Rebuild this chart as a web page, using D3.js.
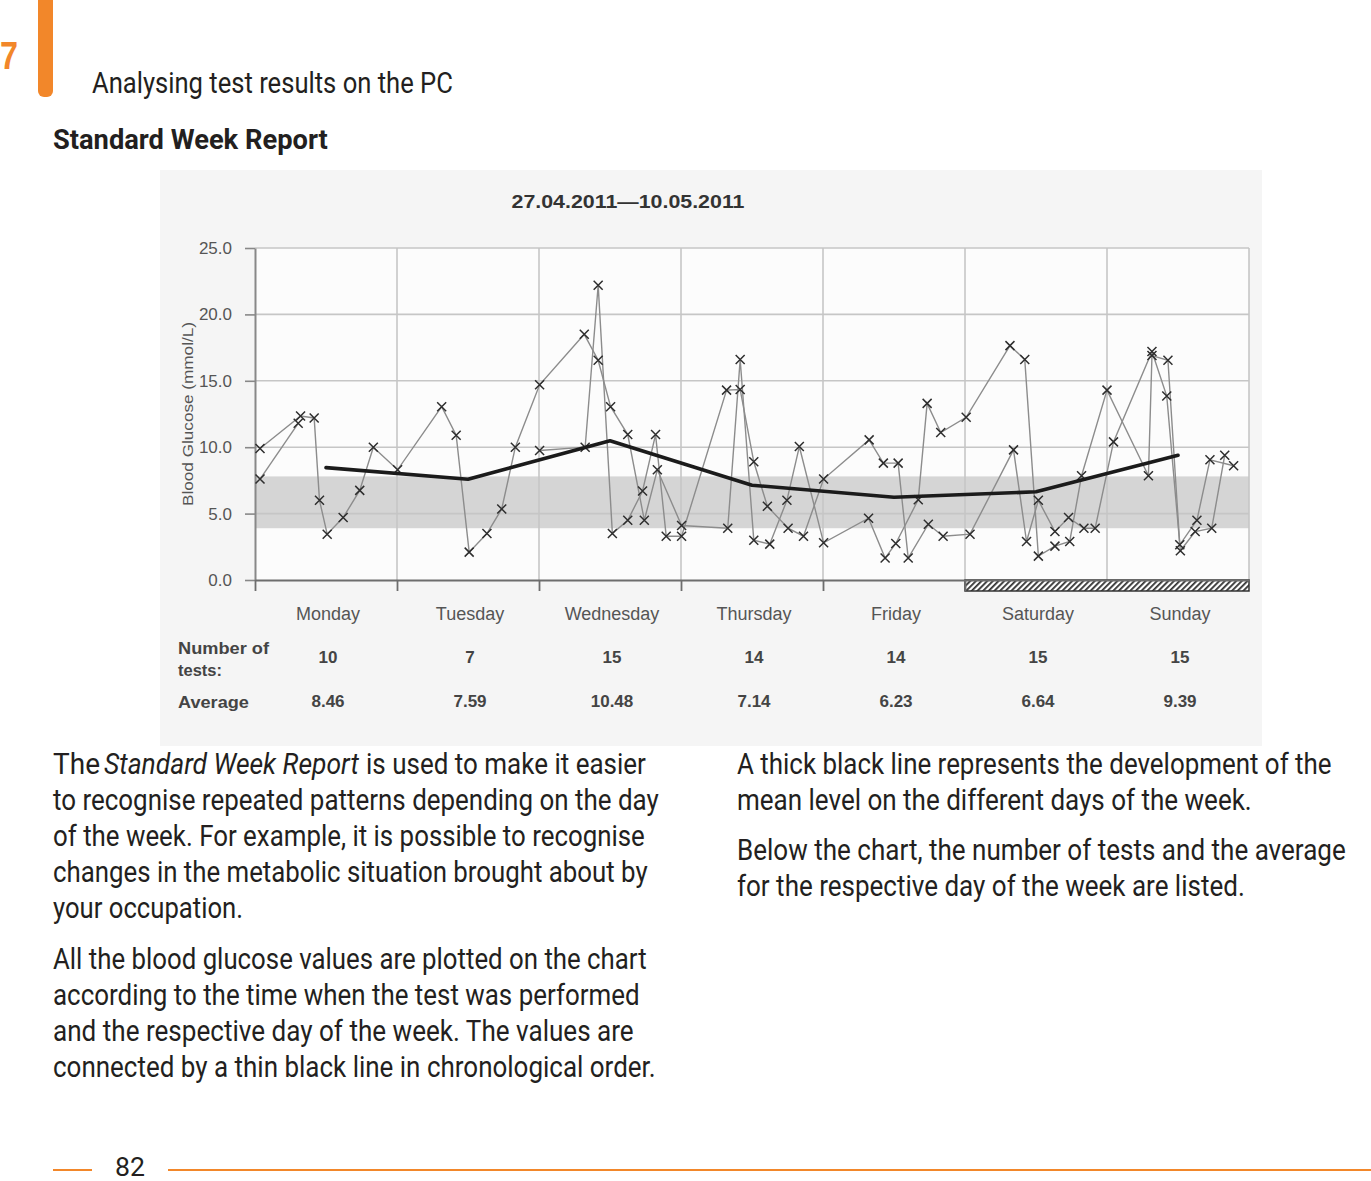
<!DOCTYPE html>
<html><head><meta charset="utf-8">
<script src="https://cdn.jsdelivr.net/npm/d3@7"></script>
<style>html,body{margin:0;padding:0;background:#fff;} svg{display:block;}</style>
</head><body><svg id="page" width="1371" height="1181"></svg>
<script>
// ---------- data ----------
const days = ["Monday","Tuesday","Wednesday","Thursday","Friday","Saturday","Sunday"];
const testCounts = [10, 7, 15, 14, 14, 15, 15];
const dayAverages = [8.46, 7.59, 10.48, 7.14, 6.23, 6.64, 9.39];
const glucoseTicks = [0, 5, 10, 15, 20, 25];
const targetRange = [3.9, 7.8];
const weekendDays = [5, 6];
const reportTitle = "27.04.2011\u201410.05.2011";

// readings: [day index (0 = Monday), hour of day, mmol/L], chronological per pass
const pass1 = [ // 27.04 - 01.05
  [2,0.1,9.75],[2,7.8,10.0],[2,10.0,22.2],[2,12.4,3.5],[2,15.0,4.5],[2,17.5,6.7],[2,19.7,10.95],[2,21.5,3.3],
  [3,0.1,3.3],[3,7.7,14.3],[3,10.0,14.35],[3,12.3,8.9],[3,14.6,5.55],[3,18.1,3.9],[3,20.7,3.3],
  [4,0.1,7.6],[4,7.8,10.55],[4,10.2,8.8],[4,12.7,8.8],[4,14.4,1.65],[4,17.8,4.2],[4,20.3,3.3],
  [5,0.85,3.45],[5,8.2,9.8],[5,10.4,2.9],[5,12.4,6.0],[5,15.2,3.65],[5,17.5,4.7],[5,20.1,3.9],[5,22.0,3.9],
  [6,1.1,10.4],[6,7.6,17.2],[6,10.1,13.85],[6,12.4,2.2],[6,14.9,3.65],[6,17.7,3.9],[6,19.9,9.4]
];
const pass2 = [ // 02.05 - 08.05
  [0,0.85,9.9],[0,7.7,12.35],[0,10.0,12.2],[0,10.9,6.0],[0,12.2,3.45],[0,14.9,4.7],[0,17.7,6.75],[0,20.0,10.0],
  [1,0.1,8.3],[1,7.55,13.05],[1,10.0,10.9],[1,12.2,2.1],[1,15.2,3.5],[1,17.7,5.35],[1,20.0,10.0],
  [2,0.1,14.7],[2,7.65,18.5],[2,10.0,16.55],[2,12.1,13.05],[2,15.0,10.95],[2,17.8,4.5],[2,20.0,8.3],
  [3,0.1,4.1],[3,7.9,3.9],[3,10.0,16.6],[3,12.3,3.0],[3,15.0,2.7],[3,17.9,6.0],[3,20.0,10.05],
  [4,0.1,2.8],[4,7.7,4.65],[4,10.5,1.65],[4,12.3,2.75],[4,16.1,6.05],[4,17.6,13.3],[4,19.9,11.1],
  [5,0.2,12.25],[5,7.6,17.65],[5,10.1,16.6],[5,12.4,1.8],[5,15.2,2.55],[5,17.7,2.9],[5,19.7,7.85],
  [6,0.0,14.3],[6,7.0,7.85],[6,7.6,16.9],[6,10.3,16.55],[6,12.3,2.65],[6,15.2,4.5],[6,17.4,9.05],[6,21.4,8.6]
];
const pass3 = [ // 09.05 - 10.05
  [0,0.85,7.6],[0,7.3,11.8]
];
const passes = [pass1, pass2, pass3];

// page text
const chapterNumber = "7";
const chapterTitle = "Analysing test results on the PC";
const sectionTitle = "Standard Week Report";
const pageNumber = "82";
const firstLine = [["The", false, 53, 47], ["Standard Week Report", true, 104, 255], ["is used to make it easier", false, 366, 280]];
const leftColumn = [
  "to recognise repeated patterns depending on the day",
  "of the week. For example, it is possible to recognise",
  "changes in the metabolic situation brought about by",
  "your occupation.",
  "All the blood glucose values are plotted on the chart",
  "according to the time when the test was performed",
  "and the respective day of the week. The values are",
  "connected by a thin black line in chronological order."
];
const leftWidths = [606, 592, 595, 190, 594, 587, 581, 603];
const leftBaselines = [810, 846, 882, 918, 969, 1005, 1041, 1077];
const rightColumn = [
  "A thick black line represents the development of the",
  "mean level on the different days of the week.",
  "Below the chart, the number of tests and the average",
  "for the respective day of the week are listed."
];
const rightWidths = [595, 515, 609, 508];
const rightBaselines = [774, 810, 860, 896];

// ---------- drawing ----------
const svg = d3.select("#page");
const orange = "#f2872a";
const pageFont = "Roboto, 'Liberation Sans', sans-serif";
const chartFont = "'Liberation Sans', Arial, sans-serif";

// place a text at (x, baseline) and squeeze it horizontally to the given width
function fitText(parent, str, x0, y0, width, attrs) {
  const g = parent.append("g");
  const t = g.append("text").attr("x", 0).attr("y", 0).text(str);
  Object.entries(attrs).forEach(([k, v]) => t.attr(k, v));
  const w = t.node().getComputedTextLength();
  const s = w > 0 ? width / w : 1;
  g.attr("transform", `translate(${x0},${y0}) scale(${s},1)`);
  return t;
}

// header
svg.append("rect").attr("x", 38).attr("y", -10).attr("width", 15).attr("height", 107)
  .attr("rx", 6).attr("fill", orange);
fitText(svg, chapterNumber, 0, 69, 18, {"font-family": chartFont, "font-weight": 700, "font-size": 38, "fill": orange});
fitText(svg, chapterTitle, 92, 93, 361, {"font-family": pageFont, "font-size": 30, "fill": "#231f20"});
fitText(svg, sectionTitle, 53, 149, 275, {"font-family": pageFont, "font-weight": 700, "font-size": 28, "fill": "#231f20"});

// chart scales
const x = d3.scaleLinear().domain([0, 7]).range([255, 1249]);
const y = d3.scaleLinear().domain([0, 25]).range([580, 248]);
const dayPos = d => x(d[0] + d[1] / 24);

// chart panel
svg.append("rect").attr("x", 160).attr("y", 170).attr("width", 1102).attr("height", 576).attr("fill", "#f5f5f5");
svg.append("rect").attr("x", x(0)).attr("y", y(25)).attr("width", x(7) - x(0)).attr("height", y(0) - y(25))
  .attr("fill", "#fcfcfc");

// target band
svg.append("rect").attr("x", x(0)).attr("y", y(targetRange[1])).attr("width", x(7) - x(0))
  .attr("height", y(targetRange[0]) - y(targetRange[1])).attr("fill", "#d5d5d5");

// grid
svg.append("g").selectAll("line").data(glucoseTicks.filter(t => t > 0)).join("line")
  .attr("x1", x(0)).attr("x2", x(7)).attr("y1", d => y(d)).attr("y2", d => y(d))
  .attr("stroke", "#c6c6c6").attr("stroke-width", 1.6);
svg.append("g").selectAll("line").data(d3.range(1, 8)).join("line")
  .attr("x1", d => x(d)).attr("x2", d => x(d)).attr("y1", y(0)).attr("y2", y(25))
  .attr("stroke", "#c6c6c6").attr("stroke-width", 1.6);

// weekend hatch
const defs = svg.append("defs");
const pat = defs.append("pattern").attr("id", "hatch").attr("patternUnits", "userSpaceOnUse")
  .attr("width", 4).attr("height", 4).attr("patternTransform", "rotate(45)");
pat.append("rect").attr("width", 4).attr("height", 4).attr("fill", "#ffffff");
pat.append("rect").attr("width", 1.8).attr("height", 4).attr("fill", "#333");
svg.append("rect").attr("x", x(weekendDays[0])).attr("y", y(0))
  .attr("width", x(weekendDays[1] + 1) - x(weekendDays[0])).attr("height", 11)
  .attr("fill", "url(#hatch)").attr("stroke", "#333").attr("stroke-width", 1.5);

// axes
const yAxis = svg.append("g").attr("transform", `translate(${x(0)},0)`)
  .call(d3.axisLeft(y).tickValues(glucoseTicks).tickFormat(d3.format(".1f")).tickSize(10).tickSizeOuter(0).tickPadding(13));
yAxis.select(".domain").attr("stroke", "#888").attr("stroke-width", 2);
yAxis.selectAll(".tick line").attr("stroke", "#888").attr("stroke-width", 1.6);
yAxis.selectAll(".tick text").attr("font-family", chartFont).attr("font-size", 17).attr("fill", "#555");

const xAxis = svg.append("g").attr("transform", `translate(0,${y(0)})`)
  .call(d3.axisBottom(x).tickValues(d3.range(0, weekendDays[0] + 1)).tickFormat("").tickSize(11).tickSizeOuter(0));
xAxis.select(".domain").attr("stroke", "#6d6d6d").attr("stroke-width", 2.2);
xAxis.selectAll(".tick line").attr("stroke", "#6d6d6d").attr("stroke-width", 1.8);

// readings
const readingLine = d3.line().x(dayPos).y(d => y(d[2]));
svg.append("g").selectAll("path").data(passes).join("path")
  .attr("d", readingLine).attr("fill", "none").attr("stroke", "#8c8c8c").attr("stroke-width", 1.4);
svg.append("g").selectAll("path").data(passes.flat()).join("path")
  .attr("transform", d => `translate(${dayPos(d)},${y(d[2])})`)
  .attr("d", "M-4.5,-4.5L4.5,4.5M-4.5,4.5L4.5,-4.5").attr("stroke", "#2e2e2e").attr("stroke-width", 1.5);

// average line
const avgLine = d3.line().x((d, i) => x(i + 0.5)).y(d => y(d));
svg.append("path").attr("d", avgLine(dayAverages)).attr("fill", "none")
  .attr("stroke", "#1b1b1b").attr("stroke-width", 3.6).attr("stroke-linecap", "round").attr("stroke-linejoin", "round");

// chart title
svg.append("text").attr("x", 628).attr("y", 208).attr("text-anchor", "middle").text(reportTitle)
  .attr("font-family", chartFont).attr("font-weight", 700).attr("font-size", 19).attr("fill", "#333")
  .attr("textLength", 233).attr("lengthAdjust", "spacingAndGlyphs");

// y label
svg.append("text").attr("transform", "translate(193,414) rotate(-90)").attr("text-anchor", "middle")
  .text("Blood Glucose (mmol/L)").attr("font-family", chartFont).attr("font-size", 15).attr("fill", "#555")
  .attr("textLength", 184).attr("lengthAdjust", "spacingAndGlyphs");

// table below chart
const colX = i => x(i + 0.5) + 2;
svg.append("g").selectAll("text").data(days).join("text")
  .attr("x", (d, i) => colX(i)).attr("y", 620).attr("text-anchor", "middle").text(d => d)
  .attr("font-family", chartFont).attr("font-size", 18).attr("fill", "#555");
svg.append("g").selectAll("text").data(testCounts).join("text")
  .attr("x", (d, i) => colX(i)).attr("y", 663).attr("text-anchor", "middle").text(d => d)
  .attr("font-family", chartFont).attr("font-weight", 700).attr("font-size", 17).attr("fill", "#444");
svg.append("g").selectAll("text").data(dayAverages).join("text")
  .attr("x", (d, i) => colX(i)).attr("y", 707).attr("text-anchor", "middle").text(d => d.toFixed(2))
  .attr("font-family", chartFont).attr("font-weight", 700).attr("font-size", 17).attr("fill", "#444");
[["Number of", 654, 91], ["tests:", 676, 44], ["Average", 708, 71]].forEach(([t, yy, w]) => {
  fitText(svg, t, 178, yy, w, {"font-family": chartFont, "font-weight": 700, "font-size": 17, "fill": "#444"});
});

// body text
const bodyAttrs = {"font-family": pageFont, "font-size": 30, "fill": "#231f20"};
firstLine.forEach(([s, it, x0, w]) => {
  fitText(svg, s, x0, 774, w, Object.assign({}, bodyAttrs, {"font-style": it ? "italic" : "normal"}));
});
leftColumn.forEach((s, i) => fitText(svg, s, 53, leftBaselines[i], leftWidths[i], bodyAttrs));
rightColumn.forEach((s, i) => fitText(svg, s, 737, rightBaselines[i], rightWidths[i], bodyAttrs));

// footer
svg.append("line").attr("x1", 53).attr("x2", 92).attr("y1", 1170).attr("y2", 1170)
  .attr("stroke", orange).attr("stroke-width", 2.2);
svg.append("line").attr("x1", 168).attr("x2", 1371).attr("y1", 1170).attr("y2", 1170)
  .attr("stroke", orange).attr("stroke-width", 2.2);
fitText(svg, pageNumber, 115, 1176, 30, {"font-family": pageFont, "font-size": 26, "fill": "#231f20"});
</script></body></html>
